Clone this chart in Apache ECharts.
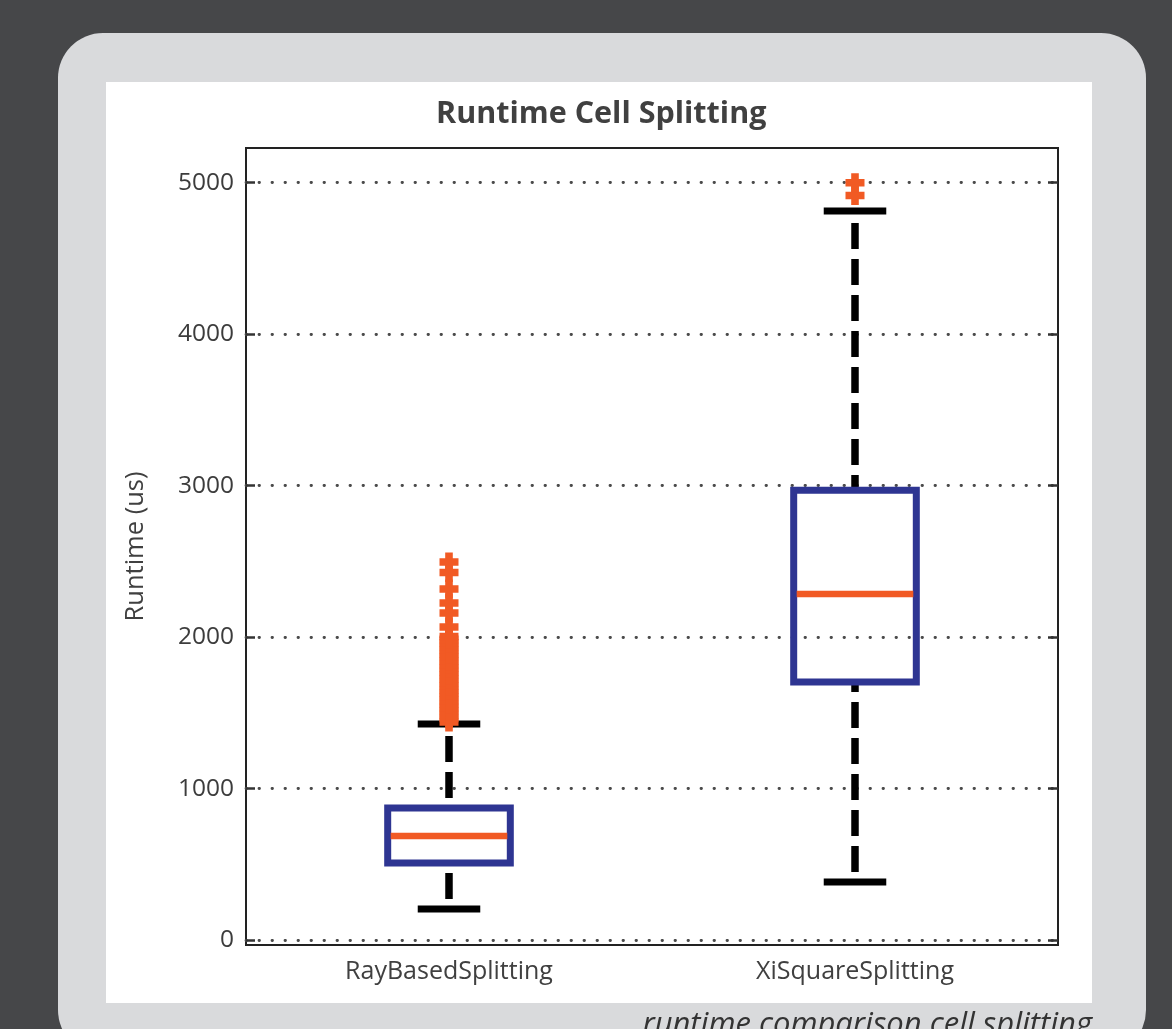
<!DOCTYPE html>
<html>
<head>
<meta charset="utf-8">
<script src="https://cdn.jsdelivr.net/npm/echarts@6/dist/echarts.min.js"></script>
<style>
html,body{margin:0;padding:0;background:#464749;}
#chart{width:1172px;height:1029px;}
</style>
</head>
<body>
<div id="chart"></div>
<script>
// ---- data ----
const categories = ['RayBasedSplitting', 'XiSquareSplitting'];
const whiskerLow  = [205, 383];
const q1Values    = [509, 1704];
const medians     = [687, 2285];
const q3Values    = [872, 2969];
const whiskerHigh = [1426, 4813];
const outliersRay = [1440, 1462, 1488, 1510, 1535, 1556, 1582, 1605, 1630, 1652, 1678, 1700,
  1725, 1748, 1772, 1795, 1820, 1843, 1868, 1890, 1915, 1938, 1962, 1985, 2004,
  2067, 2159, 2225, 2317, 2426, 2496];
const outliersXi = [4915, 5000];
const yTicks = [0, 1000, 2000, 3000, 4000, 5000];
const titleText = 'Runtime Cell Splitting';
const yName = 'Runtime (us)';
const captionText = 'runtime comparison cell splitting';

const boxData = categories.map((c, i) => [i, whiskerLow[i], q1Values[i], medians[i], q3Values[i], whiskerHigh[i]]);
const outlierData = outliersRay.map(v => [0, v]).concat(outliersXi.map(v => [1, v]));

const FONT = '"Open Sans", "DejaVu Sans", sans-serif';
const BLUE = '#2e3592';
const ORANGE = '#f15a24';
const PLUS = 'path://M6,0 L14,0 L14,6 L20,6 L20,14 L14,14 L14,20 L6,20 L6,14 L0,14 L0,6 L6,6 Z';

const chart = echarts.init(document.getElementById('chart'), null, {renderer: 'canvas'});

const option = {
  backgroundColor: '#464749',
  animation: false,
  graphic: [
    {type: 'rect', z: -20, silent: true, shape: {x: 58, y: 33, width: 1088, height: 1022, r: 45}, style: {fill: '#d9dadc'}},
    {type: 'rect', z: -19, silent: true, shape: {x: 106, y: 82, width: 986, height: 921}, style: {fill: '#ffffff'}},
    {type: 'text', z: 10, silent: true, x: 1092, y: 1025,
      style: {text: captionText, fill: '#333333', font: 'italic 31px ' + FONT, textAlign: 'right', textVerticalAlign: 'middle'}}
  ],
  title: {
    text: titleText,
    left: 436,
    top: 99,
    padding: 0,
    textStyle: {fontFamily: FONT, fontSize: 30.5, fontWeight: 'bold', color: '#404040'}
  },
  grid: {
    left: 246, right: 114, top: 148, bottom: 84,
    show: true, borderColor: '#222222', borderWidth: 2, backgroundColor: 'transparent'
  },
  xAxis: {
    type: 'category',
    data: categories,
    boundaryGap: true,
    axisLine: {show: false},
    axisTick: {show: false},
    splitLine: {show: false},
    axisLabel: {fontFamily: FONT, fontSize: 25, color: '#404040', margin: 14}
  },
  yAxis: [
    {
      type: 'value',
      min: -33, max: 5229,
      name: yName,
      nameLocation: 'middle',
      nameGap: 97,
      nameTextStyle: {fontFamily: FONT, fontSize: 25.5, color: '#404040'},
      axisLine: {show: false},
      axisTick: {show: true, inside: true, length: 9, customValues: yTicks, lineStyle: {color: '#333', width: 2.5}},
      axisLabel: {customValues: yTicks, formatter: v => String(v), fontFamily: FONT, fontSize: 24.5, color: '#3c3c3c', margin: 12},
      splitLine: {show: true, lineStyle: {color: '#4a4a4a', width: 2.8, type: [0.5, 12.5], cap: 'round'}}
    },
    {
      type: 'value',
      position: 'right',
      min: -33, max: 5229,
      axisLine: {show: false},
      axisTick: {show: true, inside: true, length: 10, customValues: yTicks, lineStyle: {color: '#333', width: 2.5}},
      axisLabel: {show: false, customValues: yTicks},
      splitLine: {show: false}
    }
  ],
  series: [
    {
      type: 'custom',
      z: 3,
      data: boxData,
      encode: {x: 0, y: [1, 2, 3, 4, 5]},
      renderItem: function (params, api) {
        const idx = api.value(0);
        const low = api.coord([idx, api.value(1)]);
        const q1 = api.coord([idx, api.value(2)]);
        const med = api.coord([idx, api.value(3)]);
        const q3 = api.coord([idx, api.value(4)]);
        const high = api.coord([idx, api.value(5)]);
        const band = api.size([1, 0])[0];
        const x = low[0];
        const hb = band * 0.151;
        const hc = band * 0.077;
        const dash = {stroke: '#000', lineWidth: 7.5, lineDash: [26, 10], lineDashOffset: 26, fill: null};
        const solid = {stroke: '#000', lineWidth: 7, fill: null};
        return {
          type: 'group',
          children: [
            {type: 'line', shape: {x1: x, y1: high[1] + 2, x2: x, y2: q3[1]}, style: dash},
            {type: 'line', shape: {x1: x, y1: low[1], x2: x, y2: q1[1]}, style: dash},
            {type: 'line', shape: {x1: x - hc, y1: high[1], x2: x + hc, y2: high[1]}, style: solid},
            {type: 'line', shape: {x1: x - hc, y1: low[1], x2: x + hc, y2: low[1]}, style: solid},
            {type: 'rect', shape: {x: x - hb, y: q3[1], width: hb * 2, height: q1[1] - q3[1]},
              style: {stroke: BLUE, lineWidth: 7, fill: null, lineJoin: 'miter'}},
            {type: 'line', shape: {x1: x - hb + 3, y1: med[1], x2: x + hb - 3, y2: med[1]},
              style: {stroke: ORANGE, lineWidth: 6.5, fill: null}}
          ]
        };
      }
    },
    {
      type: 'scatter',
      z: 4,
      data: outlierData,
      symbol: PLUS,
      symbolSize: 19,
      itemStyle: {color: ORANGE, opacity: 1},
      silent: true
    }
  ]
};
chart.setOption(option);
</script>
</body>
</html>
